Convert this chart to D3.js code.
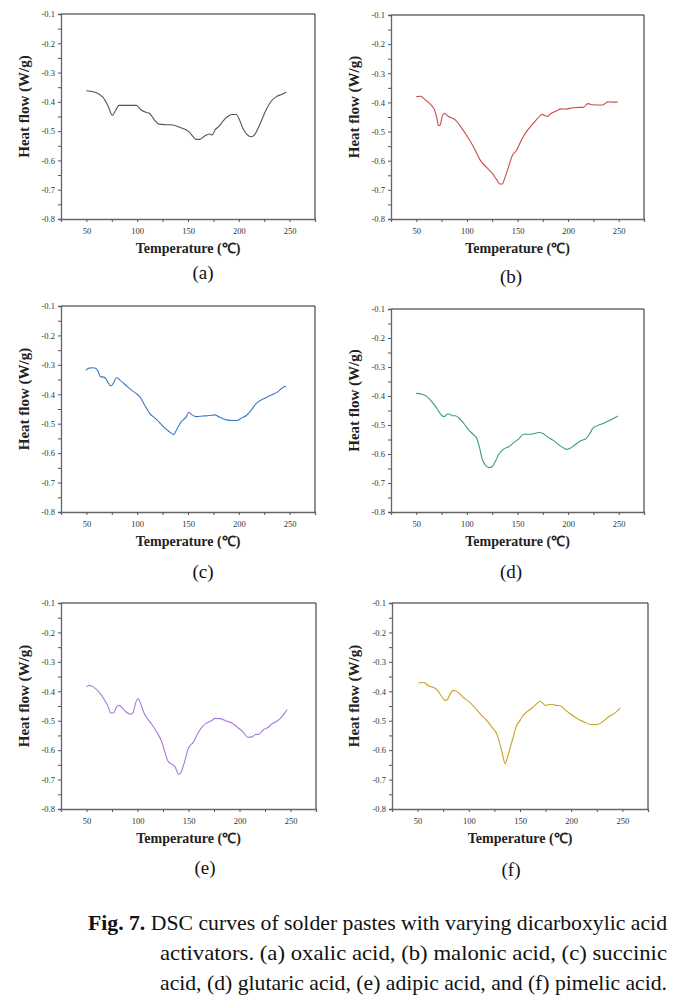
<!DOCTYPE html>
<html><head><meta charset="utf-8">
<script src="https://cdn.jsdelivr.net/npm/d3@7"></script>
<style>
html,body{margin:0;padding:0;background:#fff;}
svg{display:block;}
svg text{font-family:"Liberation Serif","Times New Roman",Tinos,serif;}
</style></head>
<body>
<svg id="chart" width="674" height="1004"></svg>
<script>
// ---------- DATA ----------
const panelLabels = ["(a)", "(b)", "(c)", "(d)", "(e)", "(f)"];
const xTicks = [50, 100, 150, 200, 250];
const xMinorTicks = [75, 125, 175, 225];
const yTicks = [-0.1, -0.2, -0.3, -0.4, -0.5, -0.6, -0.7, -0.8];
const yMinorTicks = [-0.15, -0.25, -0.35, -0.45, -0.55, -0.65, -0.75];
const xTitle = "Temperature (\u2103)";
const yTitle = "Heat flow (W/g)";

const tempA = [50,59.8,66.4,71.3,75.6,78.9,82.1,89.3,99.2,104,109,112,117,121.5,128.7,135,141.8,148.4,151.6,155,158,161.5,165.4,168.7,171,173.6,177,181,184.4,188.7,193.3,197.5,200,204,208,212.5,215.6,220.5,227,232,237,242.5,246.7];
const flowA = [-0.362,-0.369,-0.385,-0.414,-0.446,-0.428,-0.412,-0.412,-0.412,-0.428,-0.436,-0.439,-0.462,-0.476,-0.478,-0.479,-0.487,-0.496,-0.504,-0.519,-0.528,-0.528,-0.519,-0.512,-0.510,-0.513,-0.494,-0.482,-0.466,-0.451,-0.443,-0.443,-0.456,-0.490,-0.511,-0.519,-0.512,-0.479,-0.426,-0.397,-0.382,-0.374,-0.366];

const tempB = [50,54,58.9,65.4,68,70.3,72,73.6,75.6,77.5,81.8,88.4,94.9,101.5,108,113,119.5,126,129,132.6,135,137.5,140.8,145,149,154,158.9,165.4,170,174.6,176.9,179.5,183.4,188.4,193.3,198.2,204.7,211.3,215.2,219.5,224.4,231,234.3,239.2,244,249];
const flowB = [-0.380,-0.379,-0.391,-0.412,-0.425,-0.454,-0.480,-0.477,-0.448,-0.437,-0.448,-0.460,-0.488,-0.523,-0.562,-0.597,-0.623,-0.648,-0.663,-0.680,-0.680,-0.659,-0.625,-0.581,-0.565,-0.528,-0.500,-0.473,-0.454,-0.441,-0.445,-0.448,-0.437,-0.429,-0.422,-0.423,-0.418,-0.417,-0.417,-0.404,-0.408,-0.409,-0.409,-0.398,-0.399,-0.399];

const tempC = [49.3,52.6,56.6,59.8,62.1,64,66.4,69,71.3,73.9,76.9,79.5,82.8,87.7,94.3,99,102.5,107.4,112.3,118.9,125.4,132,136,138.5,143.4,148.4,150.7,153.9,158.2,164.8,171.3,176.2,181.2,187.7,194.3,199.2,202.5,207.4,212.3,217.2,223.8,228.7,233.6,238.5,243.4,246.7];
const flowC = [-0.319,-0.311,-0.310,-0.313,-0.327,-0.341,-0.341,-0.347,-0.360,-0.372,-0.360,-0.344,-0.351,-0.366,-0.386,-0.397,-0.408,-0.437,-0.465,-0.485,-0.509,-0.528,-0.537,-0.522,-0.493,-0.476,-0.461,-0.470,-0.476,-0.474,-0.472,-0.470,-0.478,-0.487,-0.489,-0.488,-0.481,-0.472,-0.453,-0.431,-0.416,-0.408,-0.400,-0.391,-0.377,-0.372];

const tempD = [50,55.6,60.5,65.5,70.4,75.4,77.7,80.3,83,85.3,88.6,91.8,96.8,101.7,106.7,110,112.6,114.9,118.2,121.5,124.8,128.1,131.4,136.3,141.3,146.2,151.2,156.1,161,166,171,175.2,179.2,185.7,192.3,198.9,202.2,207.2,212.1,218,221,224.6,228.6,235.2,241.8,249.3];
const flowD = [-0.391,-0.394,-0.402,-0.420,-0.443,-0.468,-0.471,-0.463,-0.462,-0.468,-0.468,-0.475,-0.494,-0.517,-0.534,-0.548,-0.580,-0.615,-0.638,-0.647,-0.644,-0.626,-0.601,-0.583,-0.575,-0.561,-0.548,-0.532,-0.532,-0.530,-0.526,-0.529,-0.540,-0.554,-0.572,-0.584,-0.580,-0.567,-0.555,-0.546,-0.532,-0.511,-0.503,-0.494,-0.483,-0.469];

const tempE = [50,52.6,56.6,63.1,68,71.3,73.9,76.2,79.5,82.1,86,90.3,93.6,95.9,98.5,100.8,103.1,106.4,112.3,118.9,123.8,127,130.3,133.6,136.9,140.2,142.5,145.1,150,155,159.9,163.8,168.1,173,176.2,181.2,187.7,192.6,197.5,203.4,208,212.3,215.6,218.9,223.8,227,232,236.9,241.8,246.7];
const flowE = [-0.385,-0.380,-0.385,-0.406,-0.431,-0.453,-0.474,-0.474,-0.453,-0.448,-0.460,-0.474,-0.478,-0.470,-0.436,-0.425,-0.442,-0.474,-0.504,-0.538,-0.572,-0.608,-0.640,-0.648,-0.657,-0.682,-0.677,-0.652,-0.593,-0.572,-0.538,-0.519,-0.508,-0.499,-0.492,-0.493,-0.502,-0.508,-0.521,-0.538,-0.556,-0.555,-0.547,-0.546,-0.530,-0.525,-0.510,-0.501,-0.485,-0.462];

const tempF = [50.7,55.9,61.4,66.3,69.5,73.4,76.7,79.3,81.9,85.1,89,93.9,100.4,105.3,111.8,118.3,123.2,127.4,130.3,132.9,135.5,137.8,141.1,144.3,146.6,149.2,152.4,157.3,162.2,166.4,169.4,172,175.2,180.1,185,189.2,194.7,199.6,206.1,212.6,219.1,225.6,230.5,235.4,241.9,247.8];
const flowF = [-0.372,-0.370,-0.383,-0.388,-0.397,-0.417,-0.431,-0.427,-0.408,-0.397,-0.402,-0.419,-0.436,-0.453,-0.479,-0.502,-0.525,-0.546,-0.578,-0.614,-0.646,-0.623,-0.584,-0.544,-0.516,-0.504,-0.485,-0.468,-0.456,-0.442,-0.434,-0.440,-0.448,-0.444,-0.448,-0.449,-0.465,-0.478,-0.493,-0.504,-0.513,-0.513,-0.504,-0.490,-0.476,-0.457];

const captionBold = "Fig. 7.";
const captionLine1 = " DSC curves of solder pastes with varying dicarboxylic acid";
const captionLine2 = "activators. (a) oxalic acid, (b) malonic acid, (c) succinic";
const captionLine3 = "acid, (d) glutaric acid, (e) adipic acid, and (f) pimelic acid.";

// ---------- LAYOUT / STYLE ----------
const series = [
  {t: tempA, v: flowA, color: "#555555"},
  {t: tempB, v: flowB, color: "#cc4a4a"},
  {t: tempC, v: flowC, color: "#3b78c2"},
  {t: tempD, v: flowD, color: "#3a9e6c"},
  {t: tempE, v: flowE, color: "#a77ad6"},
  {t: tempF, v: flowF, color: "#c9a326"}
];
const frames = [
  {l: 61, r: 315, t: 14, b: 219, yt: 24, ly: 279, lx: 203},
  {l: 391, r: 644, t: 15, b: 219, yt: 354, ly: 283, lx: 511},
  {l: 61, r: 315, t: 306, b: 512, yt: 24, ly: 578, lx: 203},
  {l: 391, r: 644, t: 309, b: 512, yt: 354, ly: 578, lx: 511},
  {l: 61, r: 316, t: 603, b: 809, yt: 24, ly: 874, lx: 205},
  {l: 392, r: 648, t: 603, b: 809, yt: 354, ly: 876, lx: 511}
];

const svg = d3.select("#chart");

frames.forEach((f, i) => {
  const x = d3.scaleLinear().domain([25, 275]).range([f.l, f.r]);
  const y = d3.scaleLinear().domain([-0.8, -0.1]).range([f.b, f.t]);
  const g = svg.append("g");

  // top/right border
  g.append("path")
    .attr("d", `M${f.l},${f.t}H${f.r}V${f.b}`)
    .attr("fill", "none").attr("stroke", "#222").attr("stroke-width", 1);

  // y axis
  const yAxis = d3.axisLeft(y).tickValues(yTicks).tickSize(3).tickPadding(3)
    .tickFormat(d => d.toFixed(1));
  const ya = g.append("g").attr("transform", `translate(${f.l},0)`).call(yAxis);
  const yMin = d3.axisLeft(y).tickValues(yMinorTicks).tickSize(3).tickFormat("");
  const ym = g.append("g").attr("transform", `translate(${f.l},0)`).call(yMin);
  ym.select(".domain").remove();

  // x axis
  const xAxis = d3.axisBottom(x).tickValues(xTicks).tickSize(3).tickPadding(6)
    .tickFormat(d3.format("d"));
  const xa = g.append("g").attr("transform", `translate(0,${f.b})`).call(xAxis);
  const xMin = d3.axisBottom(x).tickValues(xMinorTicks).tickSize(3).tickFormat("");
  const xm = g.append("g").attr("transform", `translate(0,${f.b})`).call(xMin);
  xm.select(".domain").remove();

  [ya, ym, xa, xm].forEach(a => {
    a.attr("font-family", null);
    a.selectAll(".domain").attr("stroke", "#666").attr("stroke-width", 1.3);
    a.selectAll(".tick line").attr("stroke", "#555").attr("stroke-width", 1);
    a.selectAll(".tick text").attr("font-size", 8.5).attr("fill", "#333");
  });

  // curve
  const pts = series[i].t.map((t, k) => [t, series[i].v[k]]);
  g.append("path")
    .datum(pts)
    .attr("fill", "none")
    .attr("stroke", series[i].color)
    .attr("stroke-width", 1.1)
    .attr("d", d3.line().x(d => x(d[0])).y(d => y(d[1])).curve(d3.curveMonotoneX));

  // axis titles
  g.append("text")
    .attr("x", (f.l + f.r) / 2).attr("y", f.b + 34)
    .attr("text-anchor", "middle")
    .attr("font-weight", "bold").attr("font-size", 14)
    .attr("fill", "#222")
    .text(xTitle);
  g.append("text")
    .attr("transform", `translate(${f.yt},${(f.t + f.b) / 2 - 10}) rotate(-90)`)
    .attr("text-anchor", "middle").attr("dominant-baseline", "central")
    .attr("font-weight", "bold").attr("font-size", 15)
    .attr("fill", "#222")
    .text(yTitle);

  // panel label
  g.append("text")
    .attr("x", f.lx).attr("y", f.ly)
    .attr("text-anchor", "middle")
    .attr("font-size", 19)
    .attr("fill", "#111")
    .text(panelLabels[i]);
});

// caption
const cap = svg.append("g").attr("font-size", 22).attr("fill", "#111");
const t1 = cap.append("text").attr("x", 88).attr("y", 930)
  .attr("textLength", 579).attr("lengthAdjust", "spacingAndGlyphs");
t1.append("tspan").attr("font-weight", "bold").text(captionBold);
t1.append("tspan").text(captionLine1);
cap.append("text").attr("x", 160).attr("y", 960)
  .attr("textLength", 507).attr("lengthAdjust", "spacingAndGlyphs").text(captionLine2);
cap.append("text").attr("x", 160).attr("y", 990)
  .attr("textLength", 507).attr("lengthAdjust", "spacingAndGlyphs").text(captionLine3);
</script>
</body></html>
